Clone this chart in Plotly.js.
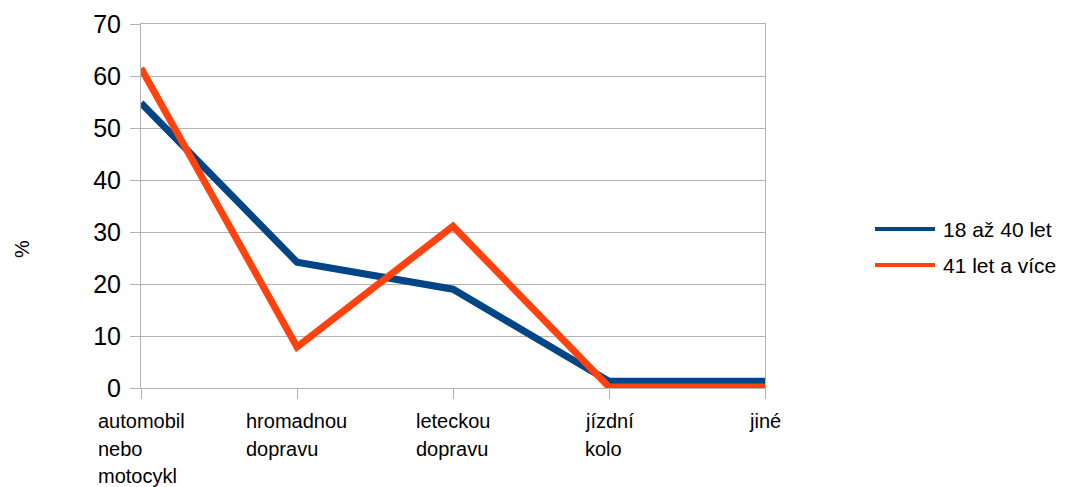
<!DOCTYPE html>
<html>
<head>
<meta charset="utf-8">
<script src="https://cdn.plot.ly/plotly-3.0.1.min.js"></script>
<style>html,body{margin:0;padding:0;background:#fff;}#chart{width:1066px;height:487px;}</style>
</head>
<body>
<div id="chart"></div>
<script>
const categories = ["automobil<br>nebo<br>motocykl", "hromadnou<br>dopravu", "leteckou<br>dopravu", "jízdní<br>kolo", "jiné"];
const seriesNames = ["18 až 40 let", "41 let a více"];
const seriesColors = ["#004586", "#ff420e"];
const young = [54.8, 24.2, 19.0, 1.3, 1.3];
const older = [61.5, 7.9, 31.1, 0.2, 0.2];
const yTicks = [0, 10, 20, 30, 40, 50, 60, 70];

const FONT = "Liberation Sans, Arial, sans-serif";
const idx = categories.map((c, i) => i);

const traces = [young, older].map((vals, s) => ({
  x: idx, y: vals, name: seriesNames[s], type: "scatter", mode: "lines",
  line: {color: seriesColors[s], width: 7}
}));

// plot geometry (pixels)
const W = 1066, H = 487;
const M = {l: 141, r: 301, t: 24, b: 99};
const PW = W - M.l - M.r, PH = H - M.t - M.b;
const px2x = p => (p - M.l) / PW;
const px2y = p => (H - M.b - p) / PH;

// measure text to left-align multi-line category labels
const cv = document.createElement("canvas").getContext("2d");
const XFS = 20;
cv.font = XFS + "px " + FONT;
const annotations = [];
const lineCenters = [421, 448.5, 476];
categories.forEach((c, i) => {
  const lines = c.split("<br>");
  const bw = Math.max(...lines.map(l => cv.measureText(l).width));
  lines.forEach((ln, k) => {
    annotations.push({
      x: i, xref: "x", y: 0, yref: "paper", xanchor: "left", yanchor: "middle",
      xshift: -bw / 2 - 2, yshift: -(lineCenters[k] - (H - M.b)),
      text: ln, showarrow: false, font: {family: FONT, size: XFS, color: "#000"}
    });
  });
});

// y-axis title
annotations.push({x: px2x(22), xref: "paper", y: px2y(249), yref: "paper",
  xanchor: "center", yanchor: "middle", text: "%", textangle: -90, showarrow: false,
  font: {family: FONT, size: 20, color: "#000"}});

// legend (drawn manually)
const legY = [229, 265];
const shapes = [];
seriesNames.forEach((n, s) => {
  shapes.push({type: "line", xref: "paper", yref: "paper",
    x0: px2x(875), x1: px2x(935), y0: px2y(legY[s]), y1: px2y(legY[s]),
    line: {color: seriesColors[s], width: 4}});
  annotations.push({x: px2x(941), xref: "paper", y: px2y(legY[s]), yref: "paper",
    xanchor: "left", yanchor: "middle", text: n, showarrow: false,
    font: {family: FONT, size: 21, color: "#000"}});
});

const layout = {
  width: W, height: H,
  margin: M,
  paper_bgcolor: "#fff", plot_bgcolor: "#fff",
  font: {family: FONT, color: "#000"},
  showlegend: false,
  xaxis: {range: [0, 4], tickvals: idx, showticklabels: false,
          ticks: "outside", ticklen: 10, tickcolor: "#b3b3b3",
          showgrid: false, zeroline: false,
          showline: true, linecolor: "#b3b3b3", linewidth: 1, mirror: true},
  yaxis: {range: [0, 70], tickvals: yTicks, ticktext: yTicks.map(String),
          ticks: "outside", ticklen: 10, tickcolor: "#b3b3b3",
          tickfont: {family: FONT, size: 25, color: "#000"},
          ticklabelstandoff: 4,
          showgrid: true, gridcolor: "#b3b3b3", gridwidth: 1, zeroline: false,
          showline: true, linecolor: "#b3b3b3", linewidth: 1, mirror: true},
  shapes: shapes,
  annotations: annotations
};

Plotly.newPlot("chart", traces, layout, {displayModeBar: false, staticPlot: true});
</script>
</body>
</html>
